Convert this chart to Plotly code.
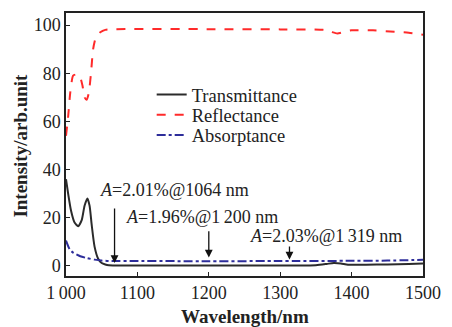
import plotly.graph_objects as go

# ---- data ----
trans_x = [1000, 1003, 1007, 1012, 1017, 1022, 1026, 1030, 1033, 1036, 1040, 1045, 1050, 1055, 1060,
           1100, 1200, 1300, 1350, 1365, 1375, 1385, 1395, 1420, 1450, 1480, 1500]
trans_y = [36, 30, 23, 18, 16.5, 19, 25, 28, 25, 17, 8, 3, 1.2, 0.6, 0.3,
           0.2, 0.2, 0.2, 0.3, 0.8, 1.2, 1.0, 0.5, 0.5, 0.6, 0.8, 1.0]

refl_x = [1000, 1003, 1006, 1010, 1015, 1019, 1023, 1026, 1029, 1032, 1035, 1038, 1042, 1048, 1055,
          1070, 1200, 1300, 1360, 1370, 1380, 1390, 1400, 1430, 1460, 1480, 1500]
refl_y = [54, 62, 72, 79, 79.5, 79, 75, 70, 69, 72, 80, 90, 95, 97, 98,
          98.3, 98.3, 98.2, 98, 97.3, 96.5, 97.2, 97.8, 97.8, 97.2, 96.8, 96]

abs_x = [1000, 1005, 1010, 1020, 1030, 1040, 1050, 1064, 1100, 1200, 1300, 1319, 1400, 1450, 1500]
abs_y = [10.5, 7, 5.5, 4, 3.2, 2.6, 2.2, 2.01, 2.0, 1.96, 2.0, 2.03, 2.1, 2.2, 2.5]

x_ticks = [1000, 1100, 1200, 1300, 1400, 1500]
x_ticktext = ["1\u2009000", "1100", "1200", "1300", "1400", "1500"]
y_ticks = [0, 20, 40, 60, 80, 100]

notes = [
    {"text": "<i>A</i>=2.01%@1064 nm", "tx": 1152, "ty": 31.5, "ax": 1068, "ay_from": 24.5, "ay_to": 1.2},
    {"text": "<i>A</i>=1.96%@1\u2009200 nm", "tx": 1190, "ty": 20.5, "ax": 1200, "ay_from": 15, "ay_to": 3.5},
    {"text": "<i>A</i>=2.03%@1\u2009319 nm", "tx": 1364, "ty": 12.4, "ax": 1313, "ay_from": 8.7, "ay_to": 2.6},
]

FONT = "Liberation Serif"
L, R, T, B = 66, 428, 11, 276
W, H = 452, 327


def px(xp):
    return (xp - L) / (R - L)


def py(yp):
    return (B - yp) / (B - T)


fig = go.Figure()
fig.add_trace(go.Scatter(x=trans_x, y=trans_y, mode="lines", name="Transmittance", legend="legend",
                         line=dict(color="#2b2b2b", width=2, shape="spline", smoothing=0.6)))
fig.add_trace(go.Scatter(x=refl_x, y=refl_y, mode="lines", name="Reflectance", legend="legend2",
                         line=dict(color="#ff2a2a", width=2, dash="dash", shape="spline", smoothing=0.6)))
fig.add_trace(go.Scatter(x=abs_x, y=abs_y, mode="lines", name="Absorptance", legend="legend3",
                         line=dict(color="#2d2d9a", width=2, dash="dashdot", shape="spline", smoothing=0.6)))

for n in notes:
    fig.add_annotation(x=n["ax"], y=n["ay_to"], ax=n["ax"], ay=n["ay_from"], axref="x", ayref="y",
                       xref="x", yref="y", showarrow=True, arrowhead=2, arrowsize=1.2,
                       arrowwidth=1.3, arrowcolor="#111", text="")
    fig.add_annotation(x=n["tx"], y=n["ty"], xref="x", yref="y", text=n["text"], showarrow=False,
                       font=dict(family=FONT, size=18, color="#222"))

fig.add_annotation(x=0.5, y=py(317), xref="paper", yref="paper", text="<b>Wavelength/nm</b>",
                   showarrow=False, yanchor="middle", font=dict(family=FONT, size=19, color="#222"))
fig.add_annotation(x=px(20), y=py(145), xref="paper", yref="paper", text="<b>Intensity/arb.unit</b>",
                   showarrow=False, textangle=-90, xanchor="center", yanchor="middle",
                   font=dict(family=FONT, size=19, color="#222"))

leg_common = dict(xanchor="left", yanchor="middle", bgcolor="rgba(0,0,0,0)",
                  font=dict(family=FONT, size=18.5, color="#222"), itemwidth=30)
fig.update_layout(
    width=W, height=H,
    margin=dict(l=L, r=W - R, t=T, b=H - B),
    paper_bgcolor="white", plot_bgcolor="white",
    font=dict(family=FONT, size=18, color="#222"),
    showlegend=True,
    legend=dict(x=0.24, y=py(93.5), **leg_common),
    legend2=dict(x=0.24, y=py(114), **leg_common),
    legend3=dict(x=0.24, y=py(134.5), **leg_common),
)
fig.update_xaxes(range=[1000, 1500], tickvals=x_ticks, ticktext=x_ticktext, showgrid=False,
                 zeroline=False, showline=True, linecolor="#222", linewidth=1.5, mirror=True,
                 ticks="inside", ticklen=4, tickcolor="#222", tickfont=dict(family=FONT, size=18))
fig.update_yaxes(range=[-4.2, 105], tickvals=y_ticks, showgrid=False, zeroline=False,
                 showline=True, linecolor="#222", linewidth=1.5, mirror=True,
                 ticks="inside", ticklen=4, tickcolor="#222", tickfont=dict(family=FONT, size=18))

fig.write_html("out.html")
